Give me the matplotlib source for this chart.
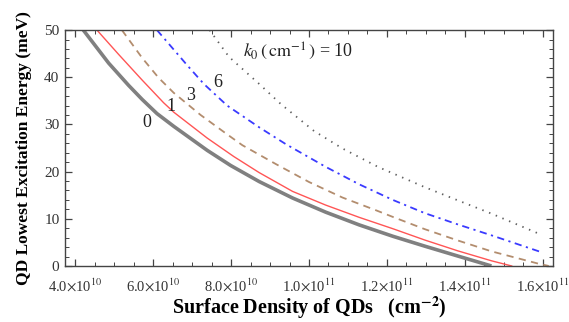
import numpy as np
import matplotlib
matplotlib.use("Agg")
import matplotlib.pyplot as plt
from matplotlib.ticker import MultipleLocator, FixedLocator, FixedFormatter

plt.rcParams["font.family"] = ["Liberation Serif", "DejaVu Serif"]
plt.rcParams["mathtext.fontset"] = "stix"

# surface density in units of 1e10 cm^-2, energy in meV
n_k0 = [4.21, 4.86, 5.37, 5.72, 6.10, 6.53, 7.39, 7.99, 8.72, 9.58, 10.43, 11.29, 12.15, 12.97, 13.82, 14.68]
e_k0 = [50.0, 43.0, 38.3, 35.3, 32.3, 29.6, 24.5, 21.3, 17.9, 14.4, 11.4, 8.7, 6.3, 4.2, 2.1, 0.0]

n_k1 = [4.56, 5.11, 5.72, 6.27, 6.53, 7.39, 8.07, 8.72, 9.58, 10.43, 11.29, 12.15, 12.97, 13.82, 14.68, 15.2]
e_k1 = [50.0, 44.9, 39.4, 34.6, 32.6, 27.1, 23.2, 19.8, 15.8, 12.9, 10.3, 7.9, 5.5, 3.2, 1.1, 0.0]

n_k3 = [5.20, 5.72, 6.14, 6.53, 7.22, 7.90, 8.29, 9.15, 10.0, 10.86, 11.72, 12.15, 12.97, 13.82, 14.68, 15.88, 16.15]
e_k3 = [50.0, 44.1, 39.9, 36.7, 32.0, 27.9, 25.6, 21.6, 17.8, 14.5, 11.8, 10.4, 7.8, 5.4, 3.1, 0.5, 0.0]

n_k6 = [6.10, 6.88, 7.30, 7.90, 8.72, 9.41, 10.43, 11.29, 12.15, 12.97, 13.82, 14.68, 15.97]
e_k6 = [50.0, 42.5, 38.6, 34.0, 29.4, 25.8, 21.0, 17.3, 14.0, 11.2, 8.8, 6.5, 2.9]

n_k10 = [7.45, 7.95, 8.72, 9.28, 10.13, 10.86, 11.77, 12.97, 13.82, 14.68, 15.88]
e_k10 = [50.0, 44.3, 38.6, 34.3, 28.6, 24.9, 21.0, 16.7, 13.9, 11.1, 6.9]

x_ticks = [4, 6, 8, 10, 12, 14, 16]
x_tick_labels = [r"4.0$\times$10$^{10}$", r"6.0$\times$10$^{10}$", r"8.0$\times$10$^{10}$",
                 r"1.0$\times$10$^{11}$", r"1.2$\times$10$^{11}$", r"1.4$\times$10$^{11}$",
                 r"1.6$\times$10$^{11}$"]

curve_labels = ["0", "1", "3", "6"]
label_pos = [(5.85, 30.5), (6.45, 33.7), (6.96, 36.1), (7.66, 38.8)]

fig = plt.figure(figsize=(5.69, 3.22), dpi=100)
ax = fig.add_axes([0.1142, 0.174, 0.8577, 0.7326])

ax.plot(np.array(n_k0) * 1e10, e_k0, color="#808080", lw=2.6, solid_capstyle="butt")
ax.plot(np.array(n_k1) * 1e10, e_k1, color="#ff5555", lw=1.0)
ax.plot(np.array(n_k3) * 1e10, e_k3, color="#b38d6e", lw=1.3, dashes=(4, 3))
ax.plot(np.array(n_k6) * 1e10, e_k6, color="#3a3aff", lw=1.3, dashes=(4, 2.5, 1.2, 2.5))
ax.plot(np.array(n_k10) * 1e10, e_k10, color="#606060", lw=1.3, dashes=(0.8, 3.2))

for lab, (px, py) in zip(curve_labels, label_pos):
    ax.text(px * 1e10, py, lab, fontsize=13, ha="center", va="center", color="#222222")
ax.text(8.3e10, 45.4, r"$k_0\,(\,\mathrm{cm}^{-1}\,)$ = 10", fontsize=13,
        ha="left", va="center", color="#222222")

ax.set_xlim(3.74e10, 16.26e10)
ax.set_ylim(0, 50)

ax.xaxis.set_major_locator(FixedLocator([t * 1e10 for t in x_ticks]))
ax.xaxis.set_major_formatter(FixedFormatter(x_tick_labels))
ax.xaxis.set_minor_locator(MultipleLocator(0.5e10))
ax.yaxis.set_major_locator(MultipleLocator(10))
ax.yaxis.set_minor_locator(MultipleLocator(2))

ax.tick_params(which="both", direction="in", top=True, right=True, colors="#444444",
               labelcolor="#333333", labelsize=11)
ax.tick_params(axis="x", labelsize=10.5)
ax.tick_params(which="major", length=5, width=0.9)
ax.tick_params(which="minor", length=2.8, width=0.7)
ax.tick_params(axis="x", which="major", pad=8)
ax.tick_params(axis="y", which="major", pad=4)
ax.tick_params(right=True, labelright=False, top=True, labeltop=False)

for s in ax.spines.values():
    s.set_color("#444444")
    s.set_linewidth(1.0)

ax.set_ylabel("QD Lowest Excitation Energy (meV)", fontsize=12.5, fontweight="bold", labelpad=9)
ax.set_xlabel(r"Surface Density of QDs   (cm$^{\mathbf{-2}}$)", fontsize=14.5,
              fontweight="bold", labelpad=0)

plt.savefig("out.png", dpi=100)
